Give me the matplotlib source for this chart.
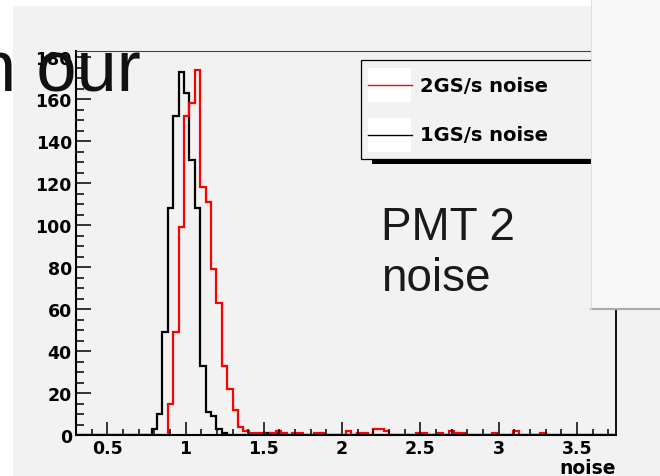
import numpy as np
import matplotlib
matplotlib.use("Agg")
import matplotlib.pyplot as plt
from matplotlib.patches import Rectangle
from matplotlib.lines import Line2D

# histogram binning (100 bins)
x_lo, x_hi, n_bins = 0.3, 3.75, 100

# counts per bin
counts_1gs = [
    0, 0, 0, 0, 0, 0, 0, 0, 0, 0, 0, 0, 0, 0, 3, 10, 49, 108, 152, 173,
    163, 131, 108, 33, 11, 9, 3, 1, 0, 0, 0, 0, 0, 0, 0, 1, 0, 1, 0, 0,
    0, 0, 0, 0, 0, 0, 0, 0, 0, 0, 0, 0, 0, 0, 0, 0, 0, 0, 0, 0,
    0, 0, 0, 0, 0, 0, 0, 0, 0, 0, 0, 0, 0, 0, 0, 0, 0, 0, 0, 0,
    0, 0, 0, 0, 0, 0, 0, 0, 0, 0, 0, 0, 0, 0, 0, 0, 0, 0, 0, 0,
]
counts_2gs = [
    0, 0, 0, 0, 0, 0, 0, 0, 0, 0, 0, 0, 0, 0, 0, 0, 0, 15, 49, 99,
    152, 158, 174, 118, 111, 79, 63, 33, 22, 12, 4, 2, 1, 1, 1, 0, 1, 2, 1, 0,
    1, 1, 0, 0, 1, 1, 0, 0, 0, 0, 2, 0, 1, 1, 0, 3, 3, 2, 0, 0,
    0, 0, 0, 1, 1, 0, 0, 1, 0, 2, 1, 1, 0, 0, 0, 0, 0, 1, 0, 0,
    0, 2, 0, 0, 0, 0, 1, 0, 0, 0, 0, 0, 0, 0, 0, 0, 0, 0, 0, 0,
]
legend_labels = ["2GS/s noise", "1GS/s noise"]
x_label = "noise"
note_text = "PMT 2\nnoise"
title_fragment = "n our"

W, H = 660, 477
BG = "#f2f2f2"


def fx(x):
    return x / W


def fy(y):
    return 1 - y / H


edges = np.linspace(x_lo, x_hi, n_bins + 1)

fig = plt.figure(figsize=(6.6, 4.77), dpi=100, facecolor="white")

# ROOT canvas background
fig.add_artist(Rectangle((fx(13), 0), 1 - fx(13), fy(7), transform=fig.transFigure,
                         facecolor=BG, edgecolor="none", zorder=-1))

ax = fig.add_axes([fx(76), fy(436), fx(616) - fx(76), fy(52) - fy(436)])
ax.set_facecolor(BG)

ax.stairs(counts_1gs, edges, color="black", lw=1.6)
ax.stairs(counts_2gs, edges, color="red", lw=1.6)

ax.set_xlim(x_lo, x_hi)
ax.set_ylim(0, 183)
ax.set_xticks([0.5, 1, 1.5, 2, 2.5, 3, 3.5])
ax.set_xticklabels(["0.5", "1", "1.5", "2", "2.5", "3", "3.5"])
ax.set_xticks(np.arange(0.4, 3.75, 0.1), minor=True)
ax.set_yticks(range(0, 181, 20))
ax.set_yticks(range(0, 183, 5), minor=True)

ax.tick_params(axis="x", which="major", direction="in", length=9.5, width=1.1, pad=3,
               labelsize=12.5)
ax.tick_params(axis="x", which="minor", direction="in", length=4.5, width=1.1)
ax.tick_params(axis="y", which="major", direction="in", length=11, width=1.1, pad=3,
               labelsize=12.5)
ax.tick_params(axis="y", which="minor", direction="in", length=5.5, width=1.1)
for lab in ax.get_xticklabels() + ax.get_yticklabels():
    lab.set_fontweight("bold")

ax.spines["left"].set_linewidth(1.5)
ax.spines["bottom"].set_linewidth(1.5)
ax.spines["right"].set_linewidth(1.3)
ax.spines["top"].set_linewidth(0.8)
ax.spines["top"].set_color("#444444")

fig.text(fx(616), fy(469), x_label, ha="right", va="center", fontsize=13.5,
         fontweight="bold")

# legend, drawn the ROOT way
fig.add_artist(Rectangle((fx(372), fy(165)), fx(300), fy(160) - fy(165),
                         transform=fig.transFigure, facecolor="black",
                         edgecolor="none", zorder=4))
fig.add_artist(Rectangle((fx(361), fy(160)), fx(300), fy(61) - fy(160),
                         transform=fig.transFigure, facecolor=BG,
                         edgecolor="black", lw=0.9, zorder=4))
for i, (lab, col) in enumerate(zip(legend_labels, ["red", "black"])):
    yc = 86 + i * 50
    fig.add_artist(Rectangle((fx(368), fy(yc + 17)), fx(43), fy(yc - 17) - fy(yc + 17),
                             transform=fig.transFigure, facecolor="white",
                             edgecolor="none", zorder=5))
    fig.add_artist(Line2D([fx(368), fx(412)], [fy(yc), fy(yc)], transform=fig.transFigure,
                          color=col, lw=1.0, zorder=6))
    fig.text(fx(420), fy(yc), lab, ha="left", va="center", fontsize=14,
             fontweight="bold", zorder=6)

fig.text(fx(381), fy(291), note_text, ha="left", va="baseline", fontsize=33,
         family="Liberation Sans", color="#1a1a1a", linespacing=1.2, zorder=6)

# slide text leaking in from the top left
fig.text(fx(141), fy(92), title_fragment, ha="right", va="baseline", fontsize=52,
         family="Liberation Sans", color="#111111", zorder=7)

# white panel covering the right side
fig.add_artist(Rectangle((fx(591), fy(310)), 1 - fx(591), 1 - fy(310),
                         transform=fig.transFigure, facecolor="#f8f8f8",
                         edgecolor="none", zorder=10))
fig.add_artist(Line2D([fx(591), 1], [fy(310), fy(310)], transform=fig.transFigure,
                      color="#aaaaaa", lw=1.5, zorder=11))
fig.add_artist(Line2D([fx(591), fx(591)], [fy(310), 1], transform=fig.transFigure,
                      color="#e0e0e0", lw=0.8, zorder=11))

fig.savefig("out.png", dpi=100, facecolor="white")
